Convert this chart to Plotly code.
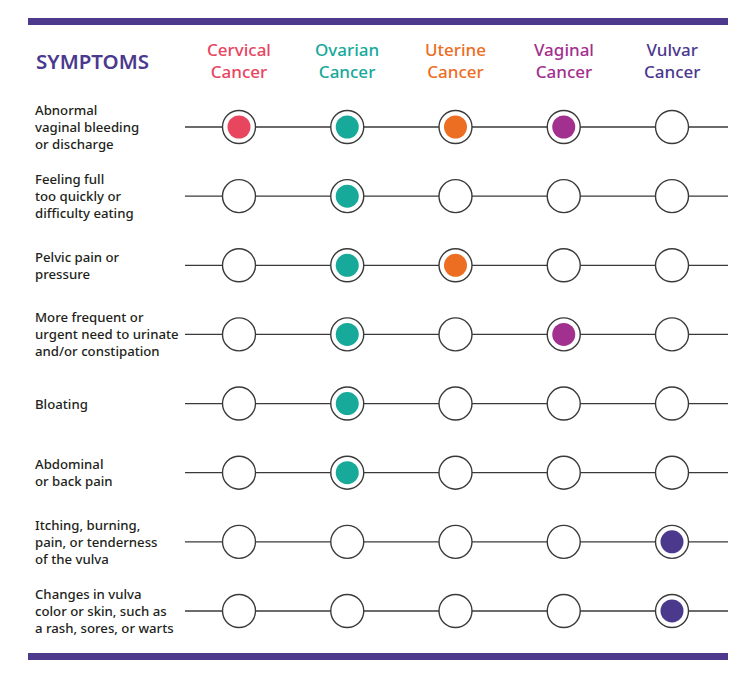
import plotly.graph_objects as go

cancers = ["Cervical<br>Cancer", "Ovarian<br>Cancer", "Uterine<br>Cancer", "Vaginal<br>Cancer", "Vulvar<br>Cancer"]
cancer_colors = ["#e8455f", "#17a99a", "#ec6e23", "#a2308e", "#4b398e"]
symptoms = [
    "Abnormal<br>vaginal bleeding<br>or discharge",
    "Feeling full<br>too quickly or<br>difficulty eating",
    "Pelvic pain or<br>pressure",
    "More frequent or<br>urgent need to urinate<br>and/or constipation",
    "Bloating",
    "Abdominal<br>or back pain",
    "Itching, burning,<br>pain, or tenderness<br>of the vulva",
    "Changes in vulva<br>color or skin, such as<br>a rash, sores, or warts",
]
# 1 = symptom associated with the cancer
matrix = [
    [1, 1, 1, 1, 0],
    [0, 1, 0, 0, 0],
    [0, 1, 1, 0, 0],
    [0, 1, 0, 1, 0],
    [0, 1, 0, 0, 0],
    [0, 1, 0, 0, 0],
    [0, 0, 0, 0, 1],
    [0, 0, 0, 0, 1],
]
header_title = "SYMPTOMS"

OFF = 8  # page body margin
W, H = 756 - OFF, 679 - OFF
col_px0, col_step = 239.0 - OFF, 108.25
row_px0, row_step = 127.0 - OFF, 69.14
x0 = -col_px0 / col_step
x1 = x0 + W / col_step
ytop = -row_px0 / row_step
ybot = ytop + H / row_step

def px_x(p):
    return (p - OFF - col_px0) / col_step

def px_y(p):
    return (p - OFF - row_px0) / row_step

def pap_x(p):
    return (p - OFF) / W

def pap_y(p):
    return 1 - (p - OFF) / H

fig = go.Figure()

lx, ly = [], []
for i in range(len(symptoms)):
    lx += [px_x(185), px_x(728), None]
    ly += [i, i, None]
fig.add_trace(go.Scatter(x=lx, y=ly, mode="lines",
                         line=dict(color="#3a3a3a", width=1.3),
                         hoverinfo="skip", showlegend=False))

ox, oy = [], []
for i in range(len(symptoms)):
    for j in range(len(cancers)):
        ox.append(j)
        oy.append(i)
fig.add_trace(go.Scatter(x=ox, y=oy, mode="markers",
                         marker=dict(size=33, color="white",
                                     line=dict(color="#3a3a3a", width=1.4)),
                         hoverinfo="skip", showlegend=False))

for j, (name, col) in enumerate(zip(cancers, cancer_colors)):
    xs = [j for i in range(len(symptoms)) if matrix[i][j]]
    ys = [i for i in range(len(symptoms)) if matrix[i][j]]
    fig.add_trace(go.Scatter(x=xs, y=ys, mode="markers",
                             marker=dict(size=23, color=col, line=dict(width=0)),
                             name=name.replace("<br>", " "), showlegend=False))

annotations = []
font_family = "Noto Sans, Open Sans, sans-serif"
for j, (name, col) in enumerate(zip(cancers, cancer_colors)):
    annotations.append(dict(x=j, y=px_y(60), xref="x", yref="y", text=name,
                            showarrow=False, xanchor="center", yanchor="middle",
                            align="center",
                            font=dict(family=font_family, size=17, color=col, weight=500)))
annotations.append(dict(x=pap_x(34), y=px_y(61), xref="paper", yref="y", text=header_title,
                        showarrow=False, xanchor="left", yanchor="middle",
                        font=dict(family=font_family, size=20.5, color="#4b398e", weight=600)))
for i, s in enumerate(symptoms):
    annotations.append(dict(x=pap_x(33), y=i, xref="paper", yref="y", text=s,
                            showarrow=False, xanchor="left", yanchor="middle",
                            align="left",
                            font=dict(family=font_family, size=13.2, color="#231f20", weight=500)))

shapes = [
    dict(type="rect", xref="paper", yref="paper", x0=pap_x(28), x1=pap_x(728),
         y0=pap_y(25), y1=pap_y(18), fillcolor="#4d3a8d", line=dict(width=0), layer="below"),
    dict(type="rect", xref="paper", yref="paper", x0=pap_x(28), x1=pap_x(728),
         y0=pap_y(660), y1=pap_y(653), fillcolor="#4d3a8d", line=dict(width=0), layer="below"),
]

fig.update_layout(
    width=W, height=H,
    margin=dict(l=0, r=0, t=0, b=0),
    paper_bgcolor="white", plot_bgcolor="white",
    xaxis=dict(range=[x0, x1], visible=False, fixedrange=True),
    yaxis=dict(range=[ybot, ytop], visible=False, fixedrange=True),
    annotations=annotations, shapes=shapes,
    showlegend=False,
)

fig.write_html("out.html")
